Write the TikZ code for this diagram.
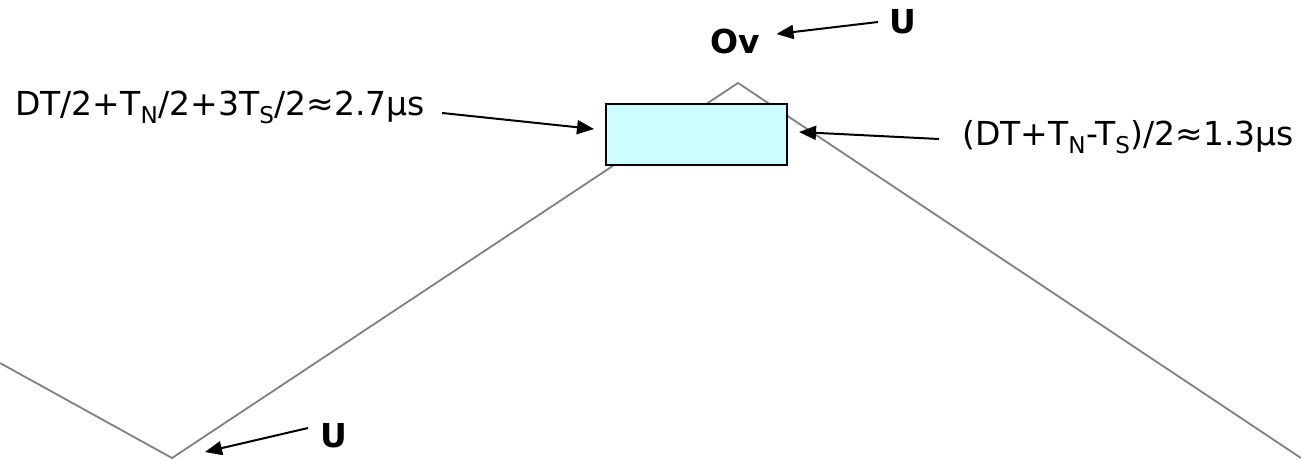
\documentclass[tikz,border=0pt]{standalone}
\usepackage{fontspec}
\setmainfont{DejaVu Sans}
\usetikzlibrary{arrows.meta}
\definecolor{boxcyan}{RGB}{204,255,255}
\definecolor{wavegray}{RGB}{128,128,128}
\tikzset{
  wave/.style={draw=wavegray, line width=1.8pt},
  ptr/.style={-{Triangle[length=17pt,width=14pt]}, line width=2pt},
  lbl/.style={inner sep=0pt, font=\fontsize{33}{40}\selectfont},
  blbl/.style={lbl, font=\fontsize{33}{40}\selectfont\bfseries},
  winbox/.style={draw, fill=boxcyan, line width=2pt, minimum width=181pt, minimum height=61pt, inner sep=0pt}
}
\begin{document}
\begin{tikzpicture}[x=1pt,y=-1pt]
  \useasboundingbox (0,0) rectangle (1301,459);
  % triangular carrier
  \coordinate (w0) at (0,363);
  \coordinate (v1) at (172,458);
  \coordinate (pk) at (738,83);
  \coordinate (w3) at (1301,458);
  \draw[wave] (w0) -- (v1) -- (pk) -- (w3);
  % window around the peak
  \node[winbox] (win) at (696.5,134.5) {};
  % labels
  \node[blbl, anchor=base] (ov) at (735.5,53) {Ov};
  \node[blbl, anchor=base west] (utop) at (889,33) {U};
  \node[blbl, anchor=base west] (ubot) at (320,447) {U};
  \node[lbl, anchor=base west] (tleft) at (15,115) {DT/2+T\textsubscript{N}/2+3T\textsubscript{S}/2≈2.7µs};
  \node[lbl, anchor=base west] (tright) at (962,145) {(DT+T\textsubscript{N}-T\textsubscript{S})/2≈1.3µs};
  % pointers
  \draw[ptr] ([xshift=-11pt,yshift=11pt]utop.base west) -- ([xshift=16pt,yshift=19pt]ov.base east);
  \draw[ptr] ([xshift=-12pt,yshift=19pt]ubot.base west) -- ([xshift=33pt,yshift=6pt]v1);
  \draw[ptr] ([xshift=17pt,yshift=2pt]tleft.base east) -- ([xshift=-11pt,yshift=5.5pt]win.west);
  \draw[ptr] ([xshift=-23pt,yshift=6pt]tright.base west) -- ([xshift=11pt,yshift=2.5pt]win.east);
\end{tikzpicture}
\end{document}
